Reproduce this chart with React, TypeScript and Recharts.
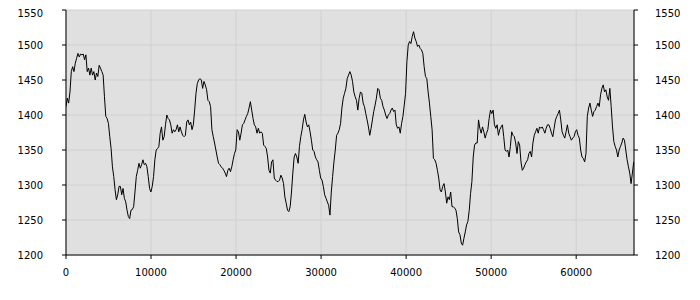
import React from 'react';
import { LineChart, Line, XAxis, YAxis, CartesianGrid } from 'recharts';

// sample spacing of the series along the x axis
const SAMPLE_STEP = 156;

const valuesA = [
  1412, 1424, 1417, 1433, 1462, 1469, 1462, 1474, 1481, 1488, 1483, 1487, 1486, 1487, 1479, 1486, 1462, 1467, 1457, 1467,
  1457, 1462, 1450, 1460, 1455, 1471, 1467, 1462, 1457, 1426, 1398, 1395, 1388, 1369, 1352, 1326, 1312, 1293, 1279, 1286,
  1298, 1298, 1286, 1295, 1281, 1276, 1264, 1255, 1252, 1264, 1265, 1269, 1290, 1312, 1321, 1331, 1324, 1329, 1336, 1329,
  1331, 1326, 1312, 1295, 1290, 1298, 1312, 1336, 1350, 1352, 1355,
];
const valuesB = [
  1374, 1383, 1364, 1369, 1386, 1400, 1395, 1393, 1386, 1374, 1379, 1376, 1379, 1386, 1376, 1383, 1376, 1371, 1369, 1371,
  1390, 1393, 1386, 1390, 1379, 1386, 1407, 1431, 1445, 1450, 1452, 1450, 1438, 1448, 1443, 1436, 1421, 1419, 1412, 1379,
  1369, 1360, 1350, 1340, 1331, 1329, 1326, 1324, 1321, 1317, 1312, 1321, 1324, 1319, 1326, 1336, 1345, 1350, 1379, 1376,
  1364, 1374, 1386, 1388, 1393, 1398, 1402, 1410, 1419, 1407, 1395,
];
const valuesC = [
  1386, 1383, 1374, 1381, 1374, 1376, 1374, 1357, 1355, 1352, 1340, 1321, 1317, 1333, 1336, 1310, 1307, 1305, 1305, 1307,
  1314, 1310, 1302, 1283, 1274, 1264, 1262, 1269, 1290, 1317, 1340, 1345, 1340, 1331, 1355, 1369, 1379, 1393, 1401, 1390,
  1383, 1386, 1376, 1364, 1350, 1348, 1340, 1336, 1333, 1321, 1310, 1307, 1298, 1286, 1281, 1276, 1271, 1257, 1290, 1312,
  1333, 1350, 1371, 1374, 1379, 1388, 1410, 1424, 1431, 1438, 1452,
];
const valuesD = [
  1457, 1462, 1457, 1448, 1433, 1426, 1421, 1407, 1424, 1433, 1431, 1417, 1412, 1402, 1393, 1383, 1371, 1381, 1393, 1405,
  1414, 1424, 1438, 1436, 1424, 1421, 1412, 1407, 1400, 1395, 1400, 1402, 1407, 1410, 1405, 1407, 1386, 1381, 1383, 1374,
  1388, 1398, 1414, 1431, 1476, 1500, 1505, 1502, 1512, 1519, 1510, 1505, 1498, 1500, 1495, 1493, 1488, 1469, 1455, 1452,
  1433, 1417, 1398, 1379, 1338, 1336, 1331, 1321, 1310, 1293, 1290,
];
const valuesE = [
  1298, 1302, 1290, 1274, 1283, 1279, 1290, 1269, 1269, 1267, 1264, 1252, 1233, 1229, 1217, 1214, 1224, 1233, 1243, 1248,
  1264, 1288, 1305, 1340, 1357, 1360, 1360, 1393, 1381, 1374, 1383, 1376, 1367, 1374, 1379, 1395, 1407, 1402, 1407, 1386,
  1381, 1386, 1371, 1379, 1383, 1386, 1369, 1350, 1348, 1350, 1340, 1355, 1376, 1371, 1369, 1360, 1345, 1362, 1357, 1333,
  1321, 1324, 1329, 1333, 1336, 1345, 1348, 1340, 1360, 1371, 1376,
];
const valuesF = [
  1381, 1374, 1383, 1381, 1383, 1379, 1374, 1381, 1386, 1386, 1381, 1374, 1369, 1381, 1393, 1398, 1402, 1407, 1393, 1376,
  1371, 1367, 1376, 1386, 1374, 1369, 1364, 1367, 1369, 1376, 1379, 1371, 1367, 1350, 1340, 1338, 1333, 1345, 1398, 1410,
  1417, 1407, 1398, 1405, 1407, 1412, 1417, 1412, 1429, 1438, 1443, 1433, 1436, 1426, 1421, 1438, 1412, 1383, 1362, 1355,
  1350, 1340, 1350, 1355, 1360, 1367, 1364, 1350, 1336, 1326, 1317, 1302, 1317, 1333,
];

const seriesValues = [...valuesA, ...valuesB, ...valuesC, ...valuesD, ...valuesE, ...valuesF];

const xTicks = [0, 10000, 20000, 30000, 40000, 50000, 60000];
const yTicks = [1200, 1250, 1300, 1350, 1400, 1450, 1500, 1550];
const xDomain = [0, 66800];
const yDomain = [1200, 1550];

const data = seriesValues.map((v, i) => ({ x: i * SAMPLE_STEP, v }));

const tickStyle = { fill: '#000', fontSize: 10, fontFamily: 'DejaVu Sans' };

export default function App() {
  return (
    <LineChart width={684} height={284} data={data} margin={{ top: 2, right: 0, bottom: 0, left: 0 }}>
      <CartesianGrid yAxisId="left" fill="#e0e0e0" stroke="#d0d0d0" fillOpacity={1} />
      <XAxis
        dataKey="x"
        type="number"
        domain={xDomain}
        ticks={xTicks}
        allowDataOverflow
        height={37}
        tickSize={4}
        tickMargin={10}
        axisLine={{ stroke: '#000' }}
        tickLine={{ stroke: '#000' }}
        tick={tickStyle}
      />
      <XAxis
        xAxisId="top"
        orientation="top"
        dataKey="x"
        type="number"
        domain={xDomain}
        allowDataOverflow
        height={0}
        tick={false}
        tickLine={false}
        axisLine={{ stroke: '#000' }}
      />
      <YAxis
        yAxisId="left"
        type="number"
        domain={yDomain}
        ticks={yTicks}
        allowDataOverflow
        width={58}
        tickSize={4}
        tickMargin={19}
        axisLine={{ stroke: '#000' }}
        tickLine={{ stroke: '#000' }}
        tick={tickStyle}
      />
      <YAxis
        yAxisId="right"
        orientation="right"
        type="number"
        domain={yDomain}
        ticks={yTicks}
        allowDataOverflow
        width={58}
        tickSize={4}
        tickMargin={17}
        axisLine={{ stroke: '#000' }}
        tickLine={{ stroke: '#000' }}
        tick={tickStyle}
      />
      <Line
        yAxisId="left"
        type="linear"
        dataKey="v"
        stroke="#000"
        strokeWidth={1}
        dot={false}
        isAnimationActive={false}
      />
    </LineChart>
  );
}
